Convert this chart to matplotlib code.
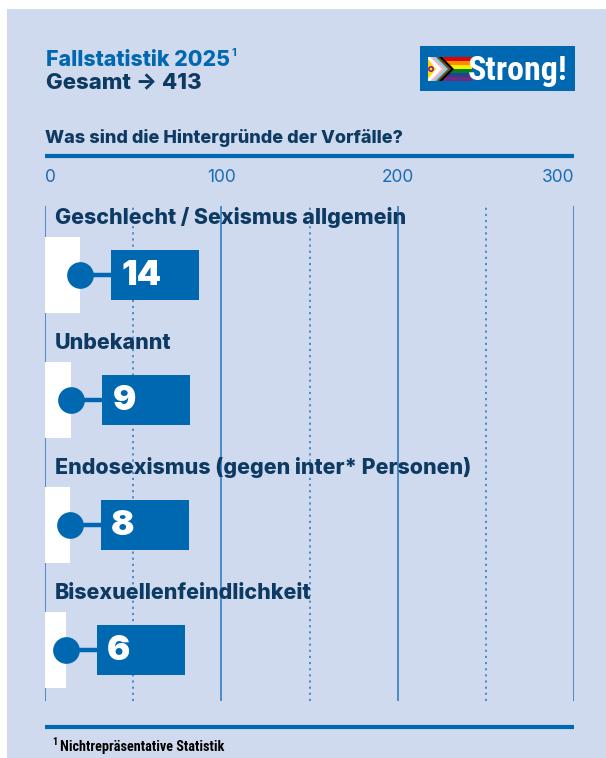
import matplotlib
matplotlib.use("Agg")
import matplotlib.pyplot as plt
from matplotlib.patches import Rectangle, Polygon

# ---------------- data ----------------
categories = [
    "Geschlecht / Sexismus allgemein",
    "Unbekannt",
    "Endosexismus (gegen inter* Personen)",
    "Bisexuellenfeindlichkeit",
]
values = [14, 9, 8, 6]
ticks = [0, 100, 200, 300]
minor_ticks = [50, 150, 250]
title = "Fallstatistik 2025"
total_label = "Gesamt \u2192 413"
question = "Was sind die Hintergründe der Vorfälle?"
footnote = "Nichtrepräsentative Statistik"

# ---------------- style ----------------
W, H = 606, 758
PANEL = "#d0daee"
BLUE = "#0068b0"
NAVY = "#0d3a62"
GRID = "#3f86c4"
FONT = ["Inter", "DejaVu Sans"]
NARROW = ["Roboto Condensed", "Roboto", "DejaVu Sans"]

fig = plt.figure(figsize=(W / 100, H / 100), dpi=100)
fig.patch.set_facecolor("white")


def fx(x):
    return x / W


def fy(y):
    return 1 - y / H


# panel background
fig.patches.append(Rectangle((fx(7), 0), 1 - fx(7), fy(9), transform=fig.transFigure,
                             facecolor=PANEL, edgecolor="none", zorder=-5))

# ---------------- chart axes ----------------
x0_px, x1_px = 45, 574
y0_px, y1_px = 206, 701
row0_px, row_step = 275, 125
ax = fig.add_axes([fx(x0_px), fy(y1_px), fx(x1_px - x0_px), (y1_px - y0_px) / H])
ax.set_zorder(2)
ax.set_xlim(ticks[0], ticks[-1])
ax.set_ylim((y1_px - row0_px) / row_step, (y0_px - row0_px) / row_step)
ax.axis("off")
ax.patch.set_alpha(0)

u = (ticks[-1] - ticks[0]) / (x1_px - x0_px)  # data units per pixel


def yrow(py):
    return (py - row0_px) / row_step


# grid
for t in ticks:
    ax.axvline(t, color=GRID, lw=1.3, zorder=1)
for t in minor_ticks:
    ax.axvline(t, color=GRID, lw=1.3, ls=(0, (1.2, 2.2)), zorder=1)

# top rule and tick labels
ax.plot([ticks[0], ticks[-1]], [yrow(155.7)] * 2, color=BLUE, lw=3, clip_on=False,
        solid_capstyle="butt")
for i, t in enumerate(ticks):
    ha = "left" if i == 0 else ("right" if i == len(ticks) - 1 else "center")
    ax.text(t, yrow(177), str(t), ha=ha, va="center", color="#1a6db5", fontsize=12.5,
            family=FONT, clip_on=False)

# bottom rule
ax.plot([ticks[0], ticks[-1]], [yrow(726.7)] * 2, color=BLUE, lw=3, clip_on=False,
        solid_capstyle="butt")

PAD = 6  # minimum visual bar length
bar_h = 76 / row_step
box_gap = 31 * u
box_w = 88 * u
box_h = 50 / row_step

for i, (cat, v) in enumerate(zip(categories, values)):
    end = v + PAD
    ax.barh(i, end, left=0, height=bar_h, color="white", zorder=2)
    ax.text(10 * u, i - 57 / row_step, cat, ha="left", va="center", color=NAVY,
            fontsize=15.4, fontweight=800, family=FONT, zorder=5)
    bl = end + box_gap
    ax.plot([end, bl], [i, i], color=BLUE, lw=3.2, zorder=3, solid_capstyle="butt")
    ax.scatter([end], [i], s=370, color=BLUE, zorder=4, linewidths=0)
    ax.add_patch(Rectangle((bl, i - box_h / 2), box_w, box_h, facecolor=BLUE,
                           edgecolor="none", zorder=4))
    ax.text(bl + 10 * u, i + 1 / row_step, str(v), ha="left", va="center", color="white",
            fontsize=25, fontweight=900, family=FONT, zorder=5)

# ---------------- titles ----------------
t1 = fig.text(fx(46), fy(65.7), title, ha="left", va="baseline", color=BLUE,
              fontsize=15.3, fontweight=800, family=FONT)
fig.text(fx(46), fy(88.3), total_label, ha="left", va="baseline", color=NAVY,
         fontsize=16, fontweight=800, family=FONT)
fig.canvas.draw()
r = fig.canvas.get_renderer()
bb = t1.get_window_extent(r)
fig.text(bb.x1 / W + fx(1), fy(56), "1", ha="left", va="baseline", color=BLUE,
         fontsize=8, fontweight="bold", family=FONT)

fig.text(fx(45), fy(143), question, ha="left", va="baseline", color=NAVY,
         fontsize=13, fontweight=800, family=FONT)

# footnote
fig.text(fx(52.5), fy(745), "1", ha="left", va="baseline", color="black",
         fontsize=7.5, fontweight="bold", family=NARROW)
fig.text(fx(59.8), fy(750.7), footnote, ha="left", va="baseline", color="black",
         fontsize=10.3, fontweight="bold", family=NARROW)

# ---------------- logo ----------------
lx0, lx1, ly0, ly1 = 420, 575, 46, 91
lax = fig.add_axes([fx(lx0), fy(ly1), fx(lx1 - lx0), (ly1 - ly0) / H])
lax.set_zorder(3)
lax.set_xlim(0, lx1 - lx0)
lax.set_ylim(ly1 - ly0, 0)
lax.set_facecolor(BLUE)
lax.set_xticks([])
lax.set_yticks([])
for s in lax.spines.values():
    s.set_visible(False)
ftop, fbot, fl, fr = 11, 35, 8, 52
stripes = ["#e40303", "#ff8c00", "#ffed00", "#008026", "#24408e", "#732982"]
sh = (fbot - ftop) / len(stripes)
for k, c in enumerate(stripes):
    lax.add_patch(Rectangle((fl, ftop + k * sh), fr - fl, sh, facecolor=c, edgecolor="none"))
mid = (ftop + fbot) / 2
half = (fbot - ftop) / 2
chevrons = [("#000000", 26), ("#784f17", 23), ("#74d7ee", 20), ("#ffafc8", 17),
            ("#ffffff", 14)]
for c, a in chevrons:
    lax.add_patch(Polygon([(fl, ftop), (fl + a - half, ftop), (fl + a, mid),
                           (fl + a - half, fbot), (fl, fbot)], closed=True,
                          facecolor=c, edgecolor="none"))
lax.add_patch(Polygon([(fl, ftop + 2), (fl + 8, mid), (fl, fbot - 2)], closed=True,
                      facecolor="#ffd800", edgecolor="none"))
lax.scatter([fl + 3], [mid], s=10, facecolor="none", edgecolor="#7902aa", lw=1)
lax.text(48, 34, "Strong!", ha="left", va="baseline", color="white", fontsize=24.5,
         fontweight="bold", family=NARROW)

fig.savefig("out.png", dpi=100, facecolor=fig.get_facecolor())
